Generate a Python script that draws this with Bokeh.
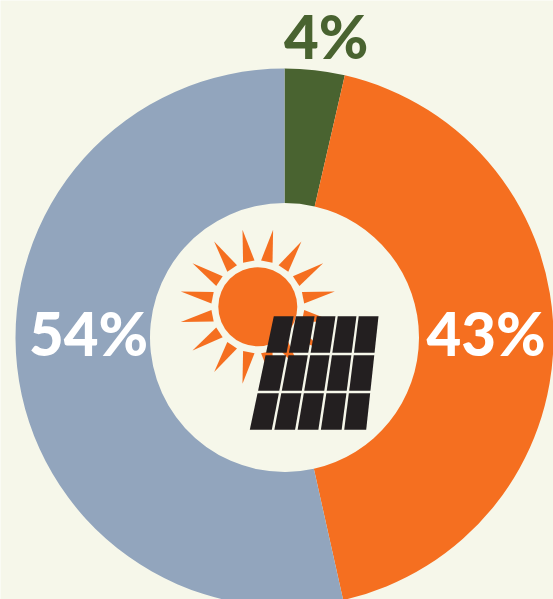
import math
from bokeh.plotting import figure
from bokeh.embed import file_html
from bokeh.resources import INLINE
from bokeh.core.properties import value

# Data
categories = ["Other", "Solar", "Rest"]
shares = [3.6, 42.9, 53.5]
labels = ["4%", "43%", "54%"]
colors = ["#496330", "#f56f20", "#92a5bd"]
label_colors = ["#496330", "#ffffff", "#ffffff"]
# styling / layout (page pixels)
BG = "#f6f7ea"
CX, CY = 284.0, 337.0
R_OUT, R_IN = 269.0, 134.5
label_left = [283.5, 426.0, 28.5]
label_mid = [35.0, 332.5, 332.5]
FONT = "Lato Black"
FS = "60px"

W, H = 553, 599
p = figure(width=W, height=H, output_backend="svg", toolbar_location=None,
           x_range=(0 - CX, 553 - CX), y_range=(CY - 599, CY - 0),
           background_fill_color=BG, border_fill_color=BG, outline_line_color=None,
           min_border=0, min_border_left=0, min_border_right=0, min_border_top=0, min_border_bottom=0)
p.xaxis.visible = False
p.yaxis.visible = False
p.grid.visible = False

# Donut from shares, clockwise from 12 o'clock
total = sum(shares)
cum = 0.0
for s, c in zip(shares, colors):
    a0 = math.pi / 2 - cum / total * 2 * math.pi
    a1 = math.pi / 2 - (cum + s) / total * 2 * math.pi
    p.annular_wedge(x=0, y=0, inner_radius=R_IN, outer_radius=R_OUT, start_angle=a1, end_angle=a0,
                    fill_color=c, line_color=None)
    cum += s

# Sun icon
SX, SY = 257.3 - CX, CY - 306.3
p.circle(x=SX, y=SY, radius=39.5, fill_color=colors[1], line_color=None)
xs, ys = [], []
for i in range(16):
    mid = math.radians(11.25 + 22.5 * i)
    hw = math.radians(7.2)
    xs.append([SX + 46.5 * math.cos(mid - hw), SX + 78.5 * math.cos(mid), SX + 46.5 * math.cos(mid + hw)])
    ys.append([SY + 46.5 * math.sin(mid - hw), SY + 78.5 * math.sin(mid), SY + 46.5 * math.sin(mid + hw)])
p.patches(xs, ys, fill_color=colors[1], line_color=None)

# Solar panel icon: 5 x 3 cells in a trapezoid
TL, TR, BR, BL = (273.3, 315.7), (378.0, 315.7), (365.7, 429.3), (249.3, 429.3)
def pt(u, v):
    top = (TL[0] + (TR[0] - TL[0]) * u, TL[1])
    bot = (BL[0] + (BR[0] - BL[0]) * u, BL[1])
    x = top[0] + (bot[0] - top[0]) * v
    y = top[1] + (bot[1] - top[1]) * v
    return x - CX, CY - y
cx, cy = [], []
gu, gv = 2.4 / 110, 2.6 / 113.6
for r in range(3):
    for c in range(5):
        u0, u1 = (c + gu * 2.5) / 5 if c else 0, (c + 1 - gu * 2.5) / 5 if c < 4 else 1
        v0, v1 = (r + gv * 1.5) / 3 if r else 0, (r + 1 - gv * 1.5) / 3 if r < 2 else 1
        q = [pt(u0, v0), pt(u1, v0), pt(u1, v1), pt(u0, v1)]
        cx.append([a for a, _ in q])
        cy.append([b for _, b in q])
p.patches(cx, cy, fill_color="#231f20", line_color=None)

# Labels
for t, lx, ly, col in zip(labels, label_left, label_mid, label_colors):
    p.text(x=[lx - CX], y=[CY - ly], text=[t], text_color=col, text_font=value(FONT),
           text_font_size=FS, text_font_style="normal", text_align="left", text_baseline="middle")

html = file_html(p, INLINE)
html = html.replace("<body>", f'<body style="margin:0;background:{BG};overflow:hidden">', 1)
open("out.html", "w").write(html)
